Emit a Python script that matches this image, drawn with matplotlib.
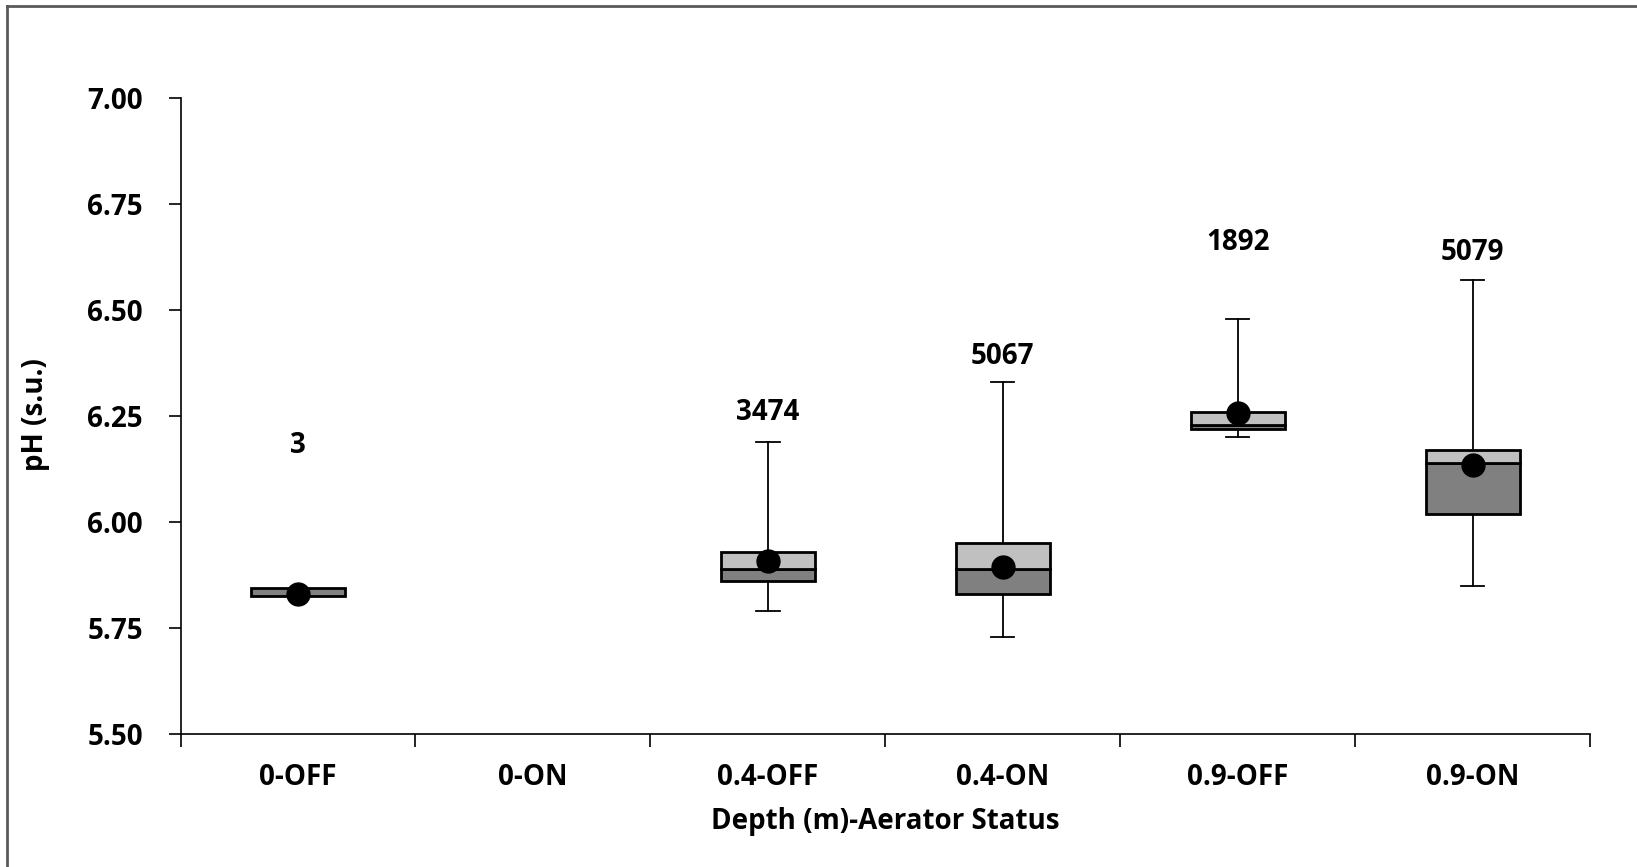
import matplotlib
matplotlib.use("Agg")
import matplotlib.pyplot as plt
from matplotlib.lines import Line2D
import numpy as np

categories = ["0-OFF", "0-ON", "0.4-OFF", "0.4-ON", "0.9-OFF", "0.9-ON"]
mins    = [5.825, None, 5.79, 5.73, 6.20, 5.85]
q1      = [5.825, None, 5.86, 5.83, 6.22, 6.02]
medians = [5.845, None, 5.89, 5.89, 6.23, 6.14]
q3      = [5.845, None, 5.93, 5.95, 6.26, 6.17]
maxs    = [5.845, None, 6.19, 6.33, 6.48, 6.57]
means   = [5.83, None, 5.908, 5.895, 6.258, 6.135]
counts  = ["3", "", "3474", "5067", "1892", "5079"]
count_y = [6.18, None, 6.258, 6.39, 6.66, 6.635]
yticks = [5.50, 5.75, 6.00, 6.25, 6.50, 6.75, 7.00]

FONT = "Open Sans"
FS = 20
plt.rcParams['font.family'] = [FONT, 'DejaVu Sans']

fig = plt.figure(figsize=(16.37, 8.67), dpi=100)
ax = fig.add_axes([0.1103, 0.1534, 0.9713 - 0.1103, 0.8868 - 0.1534])

dark = "#808080"
light = "#C0C0C0"
bw = 0.4
cap = 0.05
for i, c in enumerate(categories):
    if q1[i] is None:
        continue
    x = i + 0.5
    ax.plot([x, x], [mins[i], q1[i]], color="black", lw=1.3, zorder=1)
    ax.plot([x, x], [q3[i], maxs[i]], color="black", lw=1.3, zorder=1)
    if maxs[i] > q3[i]:
        ax.plot([x - cap, x + cap], [maxs[i], maxs[i]], color="black", lw=1.3, zorder=1)
    if mins[i] < q1[i]:
        ax.plot([x - cap, x + cap], [mins[i], mins[i]], color="black", lw=1.3, zorder=1)
    ax.bar(x, medians[i] - q1[i], bottom=q1[i], width=bw, color=dark,
           edgecolor="black", linewidth=2, zorder=2)
    if q3[i] > medians[i]:
        ax.bar(x, q3[i] - medians[i], bottom=medians[i], width=bw, color=light,
               edgecolor="black", linewidth=2, zorder=2)
    ax.plot(x, means[i], "o", color="black", markersize=16.5, zorder=3)
    ax.text(x, count_y[i], counts[i], ha="center", va="center",
            fontsize=FS, fontweight="bold")

ax.set_xlim(0, len(categories))
ax.set_ylim(5.5, 7.0)
ax.set_yticks(yticks)
ax.set_yticklabels([f"{v:.2f}" for v in yticks])
ax.set_xticks(np.arange(len(categories) + 1))
ax.set_xticklabels([])
ax.set_xticks(np.arange(len(categories)) + 0.5, minor=True)
ax.set_xticklabels(categories, minor=True)
ax.tick_params(axis="x", which="major", direction="out", length=9, width=1.2)
ax.tick_params(axis="x", which="minor", length=0, pad=21, labelsize=FS)
ax.tick_params(axis="y", direction="out", length=9, width=1.2, pad=18, labelsize=FS)
for lab in ax.get_xticklabels(minor=True) + ax.get_yticklabels():
    lab.set_fontweight("bold")

for s in ["top", "right"]:
    ax.spines[s].set_visible(False)
for s in ["left", "bottom"]:
    ax.spines[s].set_linewidth(1.2)

ax.set_ylabel("pH (s.u.)", fontsize=FS, fontweight="bold", va="center")
ax.set_xlabel("Depth (m)-Aerator Status", fontsize=FS, fontweight="bold", va="center")
ax.yaxis.set_label_coords(35.5 / 1637, 1 - 415 / 867, transform=fig.transFigure)
ax.xaxis.set_label_coords(885 / 1637, 1 - 822 / 867, transform=fig.transFigure)

fig.add_artist(Line2D([7 / 1637, 7 / 1637], [0, 1 - 6 / 867], transform=fig.transFigure,
                      color="#595959", lw=2))
fig.add_artist(Line2D([7 / 1637, 1], [1 - 6 / 867, 1 - 6 / 867], transform=fig.transFigure,
                      color="#595959", lw=2))

fig.savefig("out.png", dpi=100)
